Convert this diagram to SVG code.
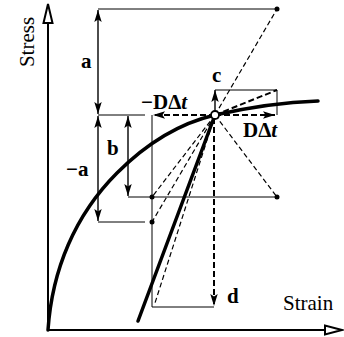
<svg xmlns="http://www.w3.org/2000/svg" width="344" height="337" viewBox="0 0 344 337">
<style>
.thin{stroke:#000;stroke-width:1;fill:none}
.dim{stroke:#000;stroke-width:1.4;fill:none}
.dash{stroke:#000;stroke-width:1.2;stroke-dasharray:5 3;fill:none}
.tdash{stroke:#000;stroke-width:2;stroke-dasharray:6 3;fill:none}
.thick{stroke:#000;stroke-width:3.5;fill:none;stroke-linecap:round}
.axis{stroke:#000;stroke-width:2;fill:none}
.lbl{font-family:"Liberation Serif",serif;font-weight:bold;font-size:21px;fill:#000}
.ax{font-family:"Liberation Serif",serif;font-size:21px;fill:#000}
.dot{fill:#000}
</style>
<defs>
<marker id="ah" markerUnits="userSpaceOnUse" markerWidth="13" markerHeight="8" refX="12" refY="4" orient="auto-start-reverse" viewBox="0 0 13 8"><path d="M0,0.3 L12,4 L0,7.7 L2.5,4 z" fill="#000"/></marker>
</defs>
<g id="axes">
<line x1="48" y1="331" x2="48" y2="22" class="axis"/>
<path d="M48,4 L43.5,23 L52.5,23 Z" fill="#fff" stroke="#000" stroke-width="2"/>
<line x1="47" y1="330" x2="326" y2="330" class="axis"/>
<path d="M342,330 L325,325.5 L325,334.5 Z" fill="#fff" stroke="#000" stroke-width="2"/>
<text transform="translate(34,42) rotate(-90)" text-anchor="middle" class="ax" font-size="23">Stress</text>
<text x="283" y="310" class="ax">Strain</text>
</g>
<g id="guides">
<polyline points="98,9 277,9" class="thin"/>
<polyline points="98,115 145,115" class="thin"/>
<polyline points="128,197 277,197" class="thin"/>
<polyline points="98,222 145,222" class="thin"/>
<polyline points="152,115 152,307 214,307" class="thin"/>
<polyline points="215,90 277,90 277,115" class="thin"/>
</g>
<g id="connectors">
<line x1="215" y1="115" x2="277" y2="9" class="dash"/>
<line x1="215" y1="115" x2="277" y2="197" class="dash"/>
<line x1="215" y1="115" x2="152" y2="197" class="dash"/>
<line x1="215" y1="115" x2="152" y2="222" class="dash"/>
<line x1="215" y1="115" x2="155" y2="303" class="dash"/>
<line x1="215" y1="115" x2="277" y2="90" class="tdash"/>
<line x1="215" y1="115" x2="138" y2="321" class="thick"/>
<path d="M48,330 C52,270 75,215 117,173 C150,140 185,122 215,115 C250,107 290,102 318,101" class="thick"/>
</g>
<g id="arrows">
<line x1="98" y1="10" x2="98" y2="114" class="dim" marker-start="url(#ah)" marker-end="url(#ah)"/>
<line x1="98" y1="116" x2="98" y2="221" class="dim" marker-start="url(#ah)" marker-end="url(#ah)"/>
<line x1="128" y1="116" x2="128" y2="196" class="dim" marker-start="url(#ah)" marker-end="url(#ah)"/>
<line x1="215" y1="112" x2="215" y2="90" class="dim" stroke-width="2" marker-end="url(#ah)"/>
<line x1="215" y1="115" x2="275" y2="115" class="tdash" marker-end="url(#ah)"/>
<line x1="215" y1="115" x2="153" y2="115" class="tdash" marker-end="url(#ah)"/>
<line x1="214" y1="118" x2="214" y2="306" class="tdash" marker-end="url(#ah)"/>
</g>
<g id="points">
<circle cx="277" cy="9" r="2.5" class="dot"/>
<circle cx="277" cy="197" r="2.5" class="dot"/>
<circle cx="152" cy="197" r="2.5" class="dot"/>
<circle cx="152" cy="222" r="2.5" class="dot"/>
<circle cx="215" cy="115" r="4" fill="#fff" stroke="#000" stroke-width="1.8"/>
</g>
<g id="labels">
<text x="81" y="68" class="lbl">a</text>
<text x="107" y="155" class="lbl">b</text>
<text x="66" y="176" class="lbl">−a</text>
<text x="212" y="82" class="lbl">c</text>
<text x="227" y="303" class="lbl">d</text>
<text x="141" y="109" class="lbl">−DΔ<tspan font-style="italic">t</tspan></text>
<text x="243" y="137" class="lbl">DΔ<tspan font-style="italic">t</tspan></text>
</g>
</svg>
